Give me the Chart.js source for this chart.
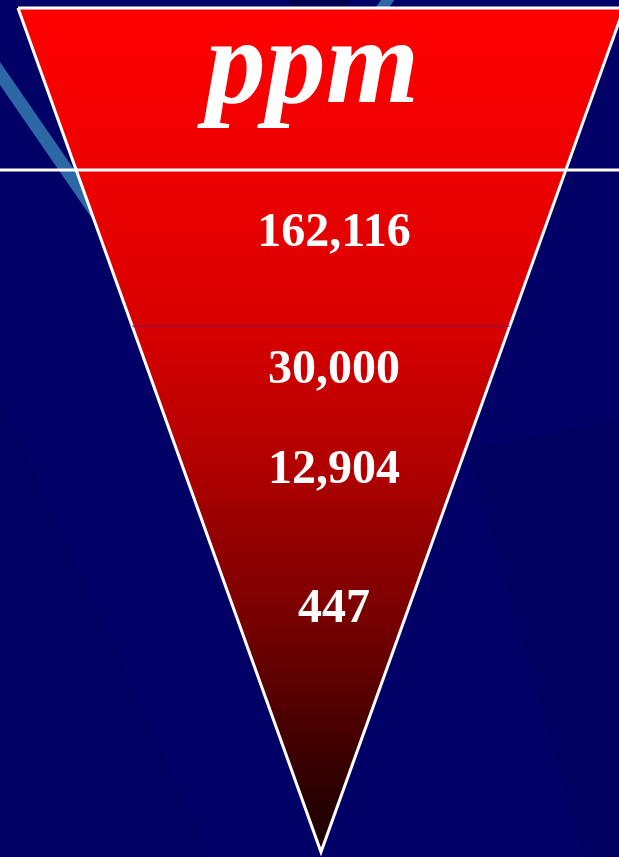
<!DOCTYPE html>
<html>
<head>
<meta charset="utf-8">
<title>ppm</title>
<script src="https://cdn.jsdelivr.net/npm/chart.js@4.4.0/dist/chart.umd.min.js"></script>
<style>
  html, body { margin: 0; padding: 0; background: #000066; overflow: hidden; }
</style>
</head>
<body>
<canvas id="funnelChart" width="619" height="857"></canvas>
<script>
// concentrations shown down the funnel, top to bottom
const unitLabel = 'ppm';
const values = [162116, 30000, 12904, 447];
// baseline depth of each label, 0 = rim of the funnel, 100 = tip
const unitDepth = 11.1;
const valueDepths = [28.2, 44.4, 56.3, 72.7];
// bands across the funnel: full-width rule, then thin inner rule
const dividerDepths = [19.2, 37.7];

// funnel outline: rim corners at +/-1, tip at 0
const halfWidth = d => 1 - d / 100;
const funnelPoints = [
    {x: -1, y: 0},
    {x: 1, y: 0},
    {x: 0, y: 100},
    {x: -1, y: 0}
];

const X_MIN = -1.0594, X_MAX = 0.9835;
const Y_MIN = -0.948, Y_MAX = 100.59;

function funnelGradient(context) {
    const chart = context.chart;
    const {ctx, chartArea, scales} = chart;
    if (!chartArea) return '#cc0000';
    const top = scales.y.getPixelForValue(0);
    const tip = scales.y.getPixelForValue(100);
    const g = ctx.createLinearGradient(0, top, 0, tip);
    g.addColorStop(0.00, '#ff0000');
    g.addColorStop(0.19, '#ee0000');
    g.addColorStop(0.38, '#d80000');
    g.addColorStop(0.46, '#c40000');
    g.addColorStop(0.55, '#b00000');
    g.addColorStop(0.61, '#980000');
    g.addColorStop(0.70, '#800000');
    g.addColorStop(0.82, '#550000');
    g.addColorStop(0.94, '#280000');
    g.addColorStop(1.00, '#1a0000');
    return g;
}

// navy backdrop with a couple of pale streaks
const backdrop = {
    id: 'backdrop',
    beforeDraw(chart) {
        const {ctx, width, height} = chart;
        ctx.save();
        ctx.fillStyle = '#000066';
        ctx.fillRect(0, 0, width, height);

        ctx.fillStyle = 'rgba(0, 0, 40, 0.35)';
        ctx.fillRect(290, 0, 60, 7);

        ctx.fillStyle = 'rgba(0, 0, 30, 0.06)';
        ctx.beginPath();
        ctx.moveTo(0, 400);
        ctx.lineTo(210, height);
        ctx.lineTo(0, height);
        ctx.closePath();
        ctx.fill();

        ctx.fillStyle = 'rgba(0, 0, 30, 0.08)';
        ctx.beginPath();
        ctx.moveTo(470, 450);
        ctx.lineTo(width, 420);
        ctx.lineTo(width, height);
        ctx.lineTo(585, height);
        ctx.closePath();
        ctx.fill();

        ctx.strokeStyle = '#2d68a6';
        ctx.lineCap = 'butt';
        ctx.lineWidth = 13;
        ctx.beginPath();
        ctx.moveTo(-30, 30);
        ctx.lineTo(150, 291);
        ctx.stroke();

        ctx.lineWidth = 11;
        ctx.beginPath();
        ctx.moveTo(398, -15);
        ctx.lineTo(360, 40);
        ctx.stroke();
        ctx.restore();
    }
};

// unit heading and the value labels
const funnelLabels = {
    id: 'funnelLabels',
    afterDatasetsDraw(chart, args, opts) {
        const {ctx, scales} = chart;
        ctx.save();
        ctx.fillStyle = '#ffffff';
        ctx.textAlign = 'center';
        ctx.textBaseline = 'alphabetic';

        ctx.font = 'italic bold 120px "Liberation Serif", "DejaVu Serif", serif';
        ctx.fillText(unitLabel, scales.x.getPixelForValue(opts.unitOffset), scales.y.getPixelForValue(unitDepth));

        ctx.font = 'bold 48px "Liberation Serif", "DejaVu Serif", serif';
        values.forEach((v, i) => {
            ctx.fillText(v.toLocaleString('en-US'),
                scales.x.getPixelForValue(opts.valueOffset),
                scales.y.getPixelForValue(valueDepths[i]));
        });
        ctx.restore();
    }
};

const CHART = document.getElementById('funnelChart');
const funnelChart = new Chart(CHART, {
    type: 'scatter',
    data: {
        datasets: [
            {
                label: 'inner rule',
                data: [
                    {x: -halfWidth(dividerDepths[1]), y: dividerDepths[1]},
                    {x: halfWidth(dividerDepths[1]), y: dividerDepths[1]}
                ],
                showLine: true,
                borderColor: '#7a1862',
                borderWidth: 1,
                pointRadius: 0,
                order: 1
            },
            {
                label: 'rule',
                data: [
                    {x: X_MIN, y: dividerDepths[0]},
                    {x: X_MAX, y: dividerDepths[0]}
                ],
                showLine: true,
                borderColor: '#ffffff',
                borderWidth: 3,
                pointRadius: 0,
                order: 2
            },
            {
                label: 'funnel',
                data: funnelPoints,
                showLine: true,
                fill: 'shape',
                backgroundColor: funnelGradient,
                borderColor: '#ffffff',
                borderWidth: 3,
                borderJoinStyle: 'miter',
                pointRadius: 0,
                tension: 0,
                order: 3
            }
        ]
    },
    options: {
        responsive: false,
        animation: false,
        layout: { padding: 0 },
        clip: false,
        scales: {
            x: { type: 'linear', min: X_MIN, max: X_MAX, display: false },
            y: { type: 'linear', min: Y_MIN, max: Y_MAX, reverse: true, display: false }
        },
        plugins: {
            legend: { display: false },
            tooltip: { enabled: false },
            funnelLabels: { unitOffset: -0.028, valueOffset: 0.043 }
        }
    },
    plugins: [backdrop, funnelLabels]
});
</script>
</body>
</html>
